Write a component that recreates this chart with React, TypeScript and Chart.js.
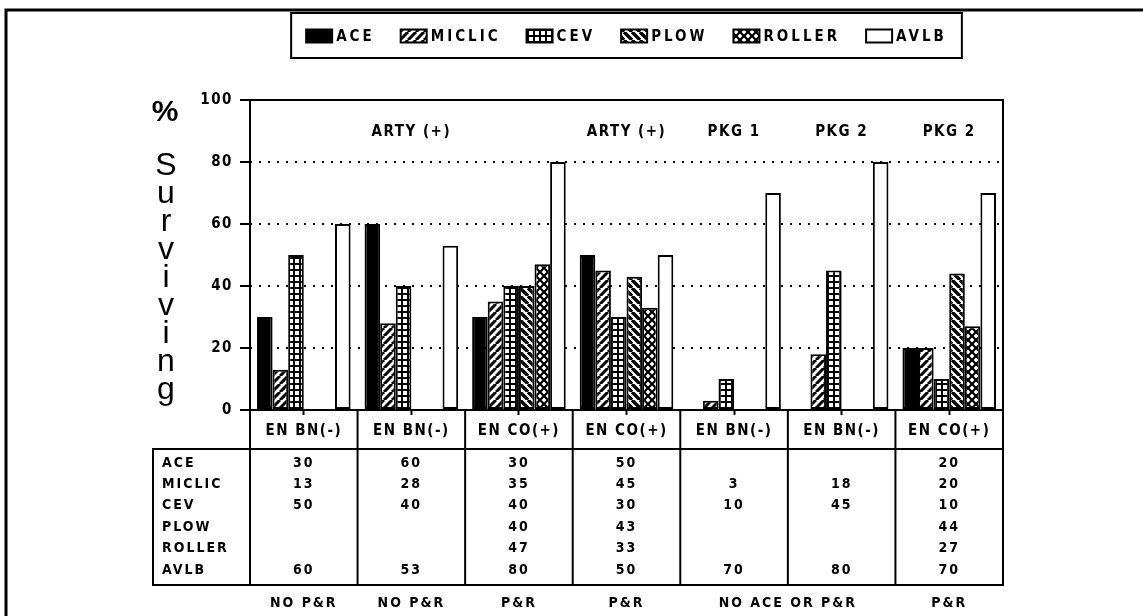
import React, { useEffect, useRef } from 'react';
import { Chart, registerables } from 'chart.js';

Chart.register(...registerables);

// ---------------- data ----------------
const categories = ['EN BN(-)', 'EN BN(-)', 'EN CO(+)', 'EN CO(+)', 'EN BN(-)', 'EN BN(-)', 'EN CO(+)'];
const seriesNames = ['ACE', 'MICLIC', 'CEV', 'PLOW', 'ROLLER', 'AVLB'];
const aceValues = [30, 60, 30, 50, null, null, 20];
const miclicValues = [13, 28, 35, 45, 3, 18, 20];
const cevValues = [50, 40, 40, 30, 10, 45, 10];
const plowValues = [null, null, 40, 43, null, null, 44];
const rollerValues = [null, null, 47, 33, null, null, 27];
const avlbValues = [60, 53, 80, 50, 70, 80, 70];
const yMin = 0;
const yMax = 100;
const yStep = 20;
const topLabels = ['ARTY (+)', 'ARTY (+)', 'PKG 1', 'PKG 2', 'PKG 2'];
const topLabelSpans = [[0, 2], [3, 3], [4, 4], [5, 5], [6, 6]];
const bottomNotes = ['NO P&R', 'NO P&R', 'P&R', 'P&R', 'NO ACE OR P&R', 'P&R'];
const bottomNoteSpans = [[0, 0], [1, 1], [2, 2], [3, 3], [4, 5], [6, 6]];
const yTitleSymbol = '%';
const yTitleWord = 'Surviving';

const FONT = '"Liberation Sans Narrow", "DejaVu Sans Condensed", "Liberation Sans", Arial, sans-serif';
const PLAIN = '"Liberation Sans", Arial, sans-serif';

// ---------------- patterns ----------------
function tile(size: number) {
  const c = document.createElement('canvas');
  c.width = size;
  c.height = size;
  return { c, g: c.getContext('2d') as CanvasRenderingContext2D };
}

function stripePattern(dir: number, size: number, lw: number): CanvasPattern {
  const { c, g } = tile(size);
  g.fillStyle = '#fff';
  g.fillRect(0, 0, size, size);
  g.strokeStyle = '#000';
  g.lineWidth = lw;
  g.beginPath();
  for (let k = -1; k <= 1; k++) {
    if (dir > 0) {
      g.moveTo(k * size, size);
      g.lineTo(k * size + size, 0);
    } else {
      g.moveTo(k * size, 0);
      g.lineTo(k * size + size, size);
    }
  }
  g.stroke();
  return g.createPattern(c, 'repeat') as CanvasPattern;
}

function gridPattern(): CanvasPattern {
  const { c, g } = tile(6);
  g.fillStyle = '#000';
  g.fillRect(0, 0, 6, 6);
  g.fillStyle = '#fff';
  g.fillRect(1, 1, 4, 4);
  return g.createPattern(c, 'repeat') as CanvasPattern;
}

function diamondPattern(): CanvasPattern {
  const s = 8;
  const { c, g } = tile(s);
  g.fillStyle = '#000';
  g.fillRect(0, 0, s, s);
  g.fillStyle = '#fff';
  const r = 2.4;
  const centers = [[s / 2, s / 2], [0, 0], [s, 0], [0, s], [s, s]];
  centers.forEach(([cx, cy]) => {
    g.beginPath();
    g.moveTo(cx, cy - r);
    g.lineTo(cx + r, cy);
    g.lineTo(cx, cy + r);
    g.lineTo(cx - r, cy);
    g.closePath();
    g.fill();
  });
  return g.createPattern(c, 'repeat') as CanvasPattern;
}

export default function App() {
  const ref = useRef<HTMLCanvasElement | null>(null);

  useEffect(() => {
    const canvas = ref.current;
    if (!canvas) return;

    const fills: (string | CanvasPattern)[] = [
      '#000',
      stripePattern(1, 8, 3),
      gridPattern(),
      stripePattern(-1, 8, 3.4),
      diamondPattern(),
      '#fff',
    ];
    const values = [aceValues, miclicValues, cevValues, plowValues, rollerValues, avlbValues];

    const decor = {
      id: 'decor',
      beforeDraw(chart: any) {
        chart.ctx.letterSpacing = '1.5px';
      },
      afterDraw(chart: any) {
        const ctx: CanvasRenderingContext2D = chart.ctx;
        const area = chart.chartArea;
        const xs = chart.scales.x;
        const n = categories.length;
        const centers = categories.map((_, i) => xs.getPixelForValue(i));
        const half = (centers[1] - centers[0]) / 2;
        const left = area.left;
        const right = area.right;
        const top = area.top;
        const bottom = area.bottom;
        const labelRowBottom = 449;
        const tableLeft = 153;
        const tableBottom = 585;

        ctx.save();
        ctx.strokeStyle = '#000';
        ctx.fillStyle = '#000';
        ctx.lineWidth = 2;
        ctx.lineCap = 'square';

        // plot frame, label row and table lines
        ctx.beginPath();
        ctx.moveTo(left, top);
        ctx.lineTo(right, top);
        ctx.moveTo(left, top);
        ctx.lineTo(left, tableBottom);
        ctx.moveTo(right, top);
        ctx.lineTo(right, tableBottom);
        ctx.moveTo(left, bottom);
        ctx.lineTo(right, bottom);
        ctx.moveTo(tableLeft, labelRowBottom);
        ctx.lineTo(right, labelRowBottom);
        ctx.moveTo(tableLeft, tableBottom);
        ctx.lineTo(right, tableBottom);
        ctx.moveTo(tableLeft, labelRowBottom);
        ctx.lineTo(tableLeft, tableBottom);
        for (let i = 1; i < n; i++) {
          const bx = centers[i] - half;
          ctx.moveTo(bx, bottom);
          ctx.lineTo(bx, tableBottom);
        }
        ctx.stroke();

        // outer frame (left and top)
        ctx.lineWidth = 3;
        ctx.beginPath();
        ctx.moveTo(6, 616);
        ctx.lineTo(6, 10);
        ctx.lineTo(1143, 10);
        ctx.stroke();

        // top labels inside the plot
        (ctx as any).letterSpacing = '1.5px';
        ctx.font = `bold 15px ${FONT}`;
        ctx.textAlign = 'center';
        ctx.textBaseline = 'middle';
        topLabels.forEach((t, k) => {
          const [a, b] = topLabelSpans[k];
          ctx.fillText(t, (centers[a] + centers[b]) / 2, 132);
        });

        // table
        const rowStart = 463;
        const rowStep = 21.4;
        (ctx as any).letterSpacing = '2px';
        ctx.font = `bold 14px ${FONT}`;
        seriesNames.forEach((name, r) => {
          const y = rowStart + r * rowStep;
          ctx.textAlign = 'left';
          ctx.fillText(name, 162, y);
          ctx.textAlign = 'center';
          values[r].forEach((v, i) => {
            if (v !== null && v !== undefined) ctx.fillText(String(v), centers[i], y);
          });
        });

        // bottom notes
        ctx.font = `bold 14px ${FONT}`;
        ctx.textAlign = 'center';
        bottomNotes.forEach((t, k) => {
          const [a, b] = bottomNoteSpans[k];
          ctx.fillText(t, (centers[a] + centers[b]) / 2, 603);
        });

        // y-axis title
        (ctx as any).letterSpacing = '0px';
        ctx.font = `bold 30px ${PLAIN}`;
        ctx.fillText(yTitleSymbol, 165, 113);
        ctx.font = `32px ${PLAIN}`;
        yTitleWord.split('').forEach((ch, i) => {
          ctx.fillText(ch, 166, 166 + i * 28);
        });

        // legend
        (ctx as any).letterSpacing = '3px';
        ctx.font = `bold 15px ${FONT}`;
        const boxW = 26;
        const boxH = 13;
        const gap = 4;
        const itemGap = 26;
        const widths = seriesNames.map((s) => boxW + gap + ctx.measureText(s).width);
        const total = widths.reduce((a, b) => a + b, 0) + itemGap * (seriesNames.length - 1);
        const cx = (left + right) / 2;
        let x = cx - total / 2;
        const ly = 36;
        ctx.lineWidth = 2;
        ctx.strokeRect(x - 15, 13, total + 30, 45);
        seriesNames.forEach((s, i) => {
          ctx.fillStyle = fills[i] as any;
          ctx.fillRect(x, ly - boxH / 2, boxW, boxH);
          ctx.strokeStyle = '#000';
          ctx.strokeRect(x, ly - boxH / 2, boxW, boxH);
          ctx.fillStyle = '#000';
          ctx.textAlign = 'left';
          ctx.fillText(s, x + boxW + gap, ly + 1);
          x += widths[i] + itemGap;
        });

        ctx.restore();
      },
    };

    const chart = new Chart(canvas, {
      type: 'bar',
      data: {
        labels: categories,
        datasets: seriesNames.map((name, i) => ({
          label: name,
          data: values[i],
          backgroundColor: fills[i] as any,
          borderColor: '#000',
          borderWidth: 2,
          borderSkipped: false,
          categoryPercentage: 0.87,
          barPercentage: 1,
        })),
      },
      options: {
        animation: false,
        responsive: false,
        devicePixelRatio: 1,
        layout: { padding: { left: 190, right: 140, top: 100, bottom: 166 } },
        plugins: {
          legend: { display: false },
          tooltip: { enabled: false },
        },
        scales: {
          x: {
            type: 'category',
            offset: true,
            afterFit: (s: any) => {
              s.height = 40;
            },
            grid: {
              drawOnChartArea: false,
              drawTicks: true,
              offset: false,
              tickLength: 5,
              tickColor: '#000',
              tickWidth: 2,
            },
            border: { display: false },
            ticks: {
              color: '#000',
              font: { family: FONT, size: 15, weight: 'bold' },
              padding: 7,
              maxRotation: 0,
              minRotation: 0,
              autoSkip: false,
            },
          },
          y: {
            min: yMin,
            max: yMax,
            afterFit: (s: any) => {
              s.width = 60;
            },
            grid: {
              color: (c: any) => (c.tick && (c.tick.value === yMin || c.tick.value === yMax) ? 'rgba(0,0,0,0)' : '#000'),
              lineWidth: 2,
              tickColor: '#000',
              tickWidth: 2,
              tickLength: 10,
              tickBorderDash: [],
            },
            border: { display: false, dash: [2, 7] },
            ticks: {
              stepSize: yStep,
              color: '#000',
              font: { family: FONT, size: 15, weight: 'bold' },
              padding: 7,
            },
          },
        },
      },
      plugins: [decor],
    } as any);

    return () => chart.destroy();
  }, []);

  return (
    <div style={{ position: 'absolute', left: 0, top: 0, width: 1143, height: 616, background: '#fff' }}>
      <canvas ref={ref} width={1143} height={616} />
    </div>
  );
}
